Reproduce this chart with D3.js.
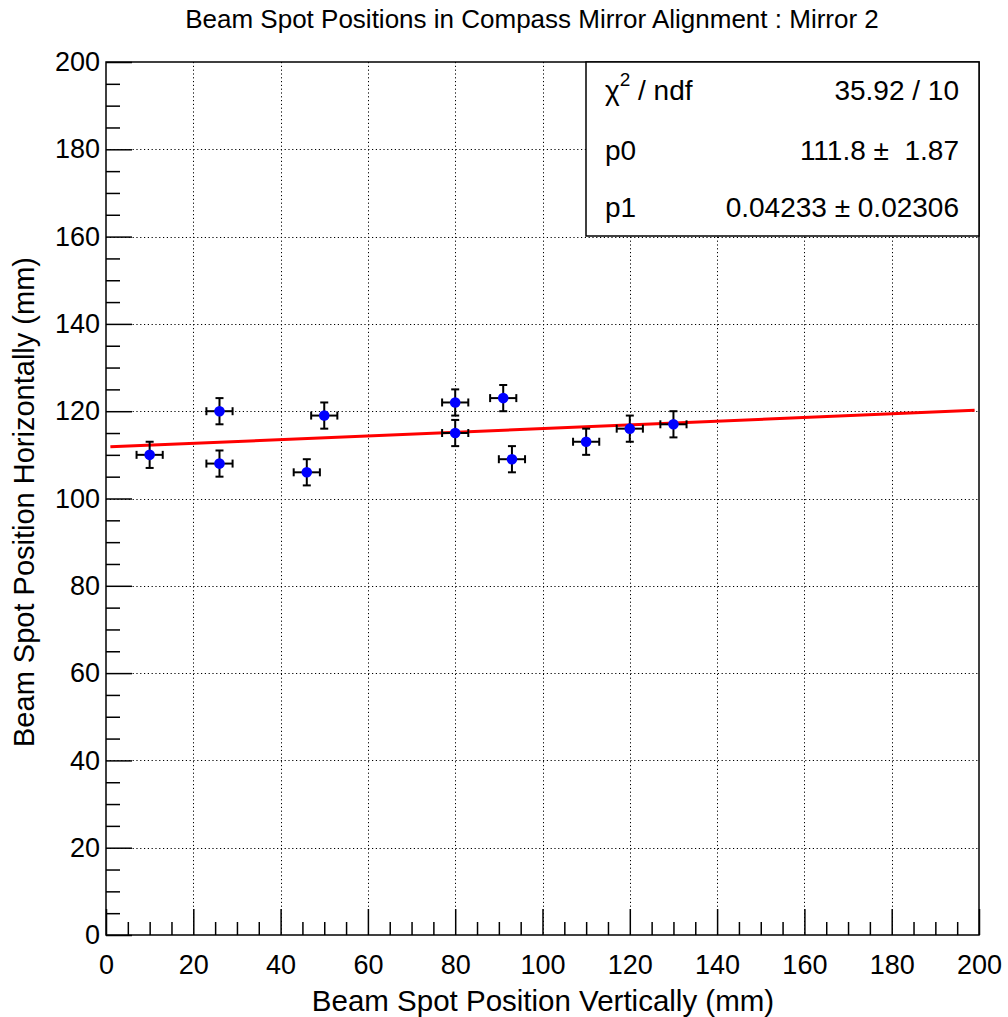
<!DOCTYPE html>
<html><head><meta charset="utf-8">
<script src="https://cdn.jsdelivr.net/npm/d3@7"></script>
<style>body{margin:0;background:#fff}svg{display:block}text{font-family:"Liberation Sans",Arial,Helvetica,sans-serif}</style>
</head><body>
<script>
// Data
const xVals = [10, 26, 26, 46, 50, 80, 80, 91, 93, 110, 120, 130];
const yVals = [110, 120, 108, 106, 119, 122, 115, 123, 109, 113, 116, 117];
const xErr = [3, 3, 3, 3, 3, 3, 3, 3, 3, 3, 3, 3];
const yErr = [3, 3, 3, 3, 3, 3, 3, 3, 3, 3, 3, 3];
const fitP0 = 111.8;
const fitP1 = 0.04233;
const fitRange = [1, 199];
const statLabels = ["χ² / ndf", "p0", "p1"];
const statValues = ["35.92 / 10", "111.8 ±  1.87", "0.04233 ± 0.02306"];
const xTicks = [0, 20, 40, 60, 80, 100, 120, 140, 160, 180, 200];
const yTicks = [0, 20, 40, 60, 80, 100, 120, 140, 160, 180, 200];

const W = 1008, H = 1017;
const L = 106, R = 979, T = 62, B = 935;
const svg = d3.select("body").append("svg").attr("width", W).attr("height", H);
const x = d3.scaleLinear().domain([0, 200]).range([L, R]);
const y = d3.scaleLinear().domain([0, 200]).range([B, T]);

// grid
const grid = svg.append("g").attr("stroke", "#000").attr("stroke-width", 1).attr("stroke-dasharray", "1.2,2.6");
grid.selectAll(".gx").data(xTicks.slice(1, -1)).enter().append("line")
  .attr("x1", d => Math.round(x(d)) + 0.5).attr("x2", d => Math.round(x(d)) + 0.5).attr("y1", T).attr("y2", B);
grid.selectAll(".gy").data(yTicks.slice(1, -1)).enter().append("line")
  .attr("y1", d => Math.round(y(d)) + 0.5).attr("y2", d => Math.round(y(d)) + 0.5).attr("x1", L).attr("x2", R);

// axes
const xMinor = d3.range(0, 201, 5).filter(v => v % 20 !== 0);
const yMinor = d3.range(0, 201, 5).filter(v => v % 20 !== 0);
const xAxis = d3.axisBottom(x).tickValues(xTicks).tickSize(-26).tickPadding(34).tickFormat(d3.format("d"));
const gx = svg.append("g").attr("transform", `translate(0,${B})`).call(xAxis);
gx.select(".domain").remove();
gx.selectAll(".tick line").attr("stroke", "#000").attr("stroke-width", 1.5);
gx.selectAll("text").attr("font-size", 27).attr("fill", "#000").attr("dy", "0.2em");
const xAxisMinor = d3.axisBottom(x).tickValues(xMinor).tickSize(-13).tickFormat("");
const gxm = svg.append("g").attr("transform", `translate(0,${B})`).call(xAxisMinor);
gxm.select(".domain").remove();
gxm.selectAll(".tick line").attr("stroke", "#000").attr("stroke-width", 1.5);

const yAxis = d3.axisLeft(y).tickValues(yTicks).tickSize(-26).tickPadding(6).tickFormat(d3.format("d"));
const gy = svg.append("g").attr("transform", `translate(${L},0)`).call(yAxis);
gy.select(".domain").remove();
gy.selectAll(".tick line").attr("stroke", "#000").attr("stroke-width", 1.5);
gy.selectAll("text").attr("font-size", 27).attr("fill", "#000");
const yAxisMinor = d3.axisLeft(y).tickValues(yMinor).tickSize(-14).tickFormat("");
const gym = svg.append("g").attr("transform", `translate(${L},0)`).call(yAxisMinor);
gym.select(".domain").remove();
gym.selectAll(".tick line").attr("stroke", "#000").attr("stroke-width", 1.5);

// frame
svg.append("rect").attr("x", L).attr("y", T).attr("width", R - L).attr("height", B - T)
  .attr("fill", "none").attr("stroke", "#000").attr("stroke-width", 1.5);

// fit line
const fitLine = d3.line().x(d => x(d)).y(d => y(fitP0 + fitP1 * d));
svg.append("path").datum(fitRange).attr("d", fitLine).attr("stroke", "#ff0000").attr("stroke-width", 3).attr("fill", "none");

// error bars and points
const pts = xVals.map((v, i) => ({x: v, y: yVals[i], ex: xErr[i], ey: yErr[i]}));
const eb = svg.append("g").attr("stroke", "#000").attr("stroke-width", 2);
const cap = 4;
pts.forEach(p => {
  const cx = x(p.x), cy = y(p.y);
  eb.append("line").attr("x1", x(p.x - p.ex)).attr("x2", x(p.x + p.ex)).attr("y1", cy).attr("y2", cy);
  eb.append("line").attr("x1", cx).attr("x2", cx).attr("y1", y(p.y - p.ey)).attr("y2", y(p.y + p.ey));
  eb.append("line").attr("x1", x(p.x - p.ex)).attr("x2", x(p.x - p.ex)).attr("y1", cy - cap).attr("y2", cy + cap);
  eb.append("line").attr("x1", x(p.x + p.ex)).attr("x2", x(p.x + p.ex)).attr("y1", cy - cap).attr("y2", cy + cap);
  eb.append("line").attr("x1", cx - cap).attr("x2", cx + cap).attr("y1", y(p.y - p.ey)).attr("y2", y(p.y - p.ey));
  eb.append("line").attr("x1", cx - cap).attr("x2", cx + cap).attr("y1", y(p.y + p.ey)).attr("y2", y(p.y + p.ey));
});
svg.append("g").selectAll("circle").data(pts).enter().append("circle")
  .attr("cx", d => x(d.x)).attr("cy", d => y(d.y)).attr("r", 5.3).attr("fill", "#0000ff");

// stats box
const bx0 = 586, by0 = 62, bx1 = 979, by1 = 236;
svg.append("rect").attr("x", bx0).attr("y", by0).attr("width", bx1 - bx0).attr("height", by1 - by0)
  .attr("fill", "#fff").attr("stroke", "#000").attr("stroke-width", 1.5);
const baselines = [100, 160, 217];
statLabels.forEach((s, i) => {
  const by = baselines[i];
  const t = svg.append("text").attr("x", 605).attr("y", by).attr("font-size", 28).attr("fill", "#000");
  if (i === 0) {
    t.append("tspan").text("χ");
    t.append("tspan").text("2").attr("font-size", 19).attr("dy", "-0.75em");
    t.append("tspan").text(" / ndf").attr("dy", "0.51em");
  } else {
    t.text(s);
  }
  svg.append("text").attr("x", 959).attr("y", by).attr("text-anchor", "end")
    .attr("font-size", 28).attr("fill", "#000").style("white-space", "pre").attr("xml:space", "preserve").text(statValues[i]);
});

// titles
svg.append("text").attr("x", 532).attr("y", 28).attr("text-anchor", "middle").attr("font-size", 26).attr("fill", "#000")
  .text("Beam Spot Positions in Compass Mirror Alignment : Mirror 2");
svg.append("text").attr("x", 543).attr("y", 1011).attr("text-anchor", "middle").attr("font-size", 29.5).attr("fill", "#000")
  .text("Beam Spot Position Vertically (mm)");
svg.append("text").attr("transform", "translate(34,502) rotate(-90)").attr("text-anchor", "middle").attr("font-size", 29).attr("fill", "#000")
  .text("Beam Spot Position Horizontally (mm)");
</script>
</body></html>
